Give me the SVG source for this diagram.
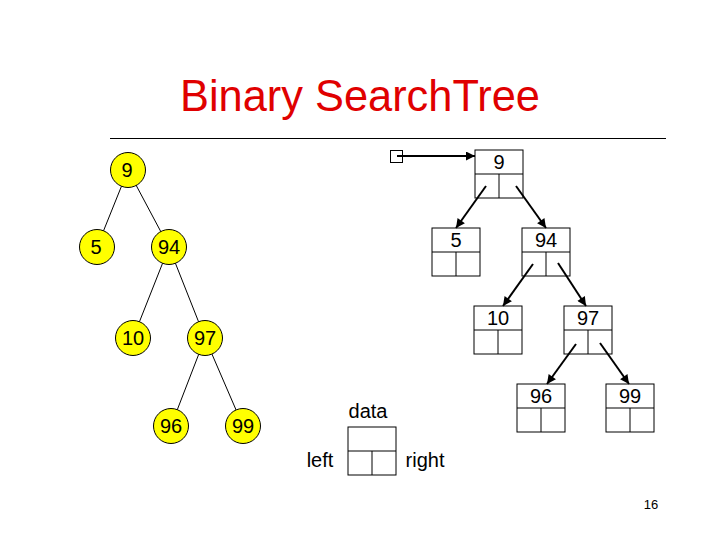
<svg xmlns="http://www.w3.org/2000/svg" width="720" height="540" viewBox="0 0 720 540">
<defs>
<style>
text{font-family:"Liberation Sans",Arial,sans-serif;fill:#000}
.lbl{font-size:20px;text-anchor:middle}
.circ{fill:#FFFF00;stroke:#000;stroke-width:1}
.edge{stroke:#000;stroke-width:1;fill:none}
.box{fill:#fff;stroke:#000;stroke-width:1}
.arr{stroke:#000;stroke-width:2;fill:none;marker-end:url(#ah)}
</style>
<marker id="ah" viewBox="0 0 10 10" refX="10" refY="5" markerWidth="10" markerHeight="9" markerUnits="userSpaceOnUse" orient="auto">
<path d="M0,0 L10,5 L0,10 Z" fill="#000"/>
</marker>
<g id="bx">
<rect class="box" x="0" y="0" width="48" height="48"/>
<line class="edge" x1="0" y1="24" x2="48" y2="24"/>
<line class="edge" x1="24" y1="24" x2="24" y2="48"/>
</g>
</defs>
<rect width="720" height="540" fill="#fff"/>
<text x="360" y="111" style="font-size:44px;fill:#E00000" text-anchor="middle" textLength="360" lengthAdjust="spacingAndGlyphs">Binary SearchTree</text>
<line x1="110" y1="138.5" x2="666" y2="138.5" stroke="#000" stroke-width="1.2"/>

<g id="left-edges">
<line class="edge" x1="128" y1="170" x2="97" y2="247"/>
<line class="edge" x1="128" y1="170" x2="169" y2="247"/>
<line class="edge" x1="169" y1="247" x2="133" y2="338"/>
<line class="edge" x1="169" y1="247" x2="205" y2="338"/>
<line class="edge" x1="205" y1="338" x2="171" y2="426"/>
<line class="edge" x1="205" y1="338" x2="243" y2="426"/>
</g>
<g id="c9"><circle class="circ" cx="128" cy="170" r="17.5"/><text class="lbl" x="127" y="177">9</text></g>
<g id="c5"><circle class="circ" cx="97" cy="247" r="17.5"/><text class="lbl" x="96" y="254">5</text></g>
<g id="c94"><circle class="circ" cx="169" cy="247" r="17.5"/><text class="lbl" x="169" y="254">94</text></g>
<g id="c10"><circle class="circ" cx="133" cy="338" r="17.5"/><text class="lbl" x="133" y="345">10</text></g>
<g id="c97"><circle class="circ" cx="205" cy="338" r="17.5"/><text class="lbl" x="205" y="345">97</text></g>
<g id="c96"><circle class="circ" cx="171" cy="426" r="17.5"/><text class="lbl" x="171" y="433">96</text></g>
<g id="c99"><circle class="circ" cx="243" cy="426" r="17.5"/><text class="lbl" x="243" y="433">99</text></g>

<g id="ptr"><rect class="box" x="390.5" y="150.5" width="12" height="12"/></g>
<g id="b9"><use href="#bx" x="475" y="150"/><text class="lbl" x="499" y="169">9</text></g>
<g id="b5"><use href="#bx" x="432" y="228"/><text class="lbl" x="456" y="247">5</text></g>
<g id="b94"><use href="#bx" x="522" y="228"/><text class="lbl" x="546" y="247">94</text></g>
<g id="b10"><use href="#bx" x="474" y="306"/><text class="lbl" x="498" y="325">10</text></g>
<g id="b97"><use href="#bx" x="564" y="306"/><text class="lbl" x="588" y="325">97</text></g>
<g id="b96"><use href="#bx" x="517" y="384"/><text class="lbl" x="541" y="403">96</text></g>
<g id="b99"><use href="#bx" x="606" y="384"/><text class="lbl" x="630" y="403">99</text></g>

<g id="arrows">
<line class="arr" x1="397" y1="156" x2="475" y2="156"/>
<line class="arr" x1="486" y1="186" x2="456" y2="228"/>
<line class="arr" x1="516" y1="186" x2="546" y2="228"/>
<line class="arr" x1="533" y1="264" x2="503" y2="306"/>
<line class="arr" x1="558" y1="263" x2="586" y2="306"/>
<line class="arr" x1="576" y1="344" x2="547" y2="384"/>
<line class="arr" x1="600" y1="343" x2="629" y2="384"/>
</g>

<g id="legend">
<use href="#bx" x="348" y="427"/>
<text class="lbl" x="368" y="418">data</text>
<text class="lbl" x="320" y="467">left</text>
<text class="lbl" x="425" y="467">right</text>
</g>
<text x="651" y="509" style="font-size:13px" text-anchor="middle">16</text>
</svg>
